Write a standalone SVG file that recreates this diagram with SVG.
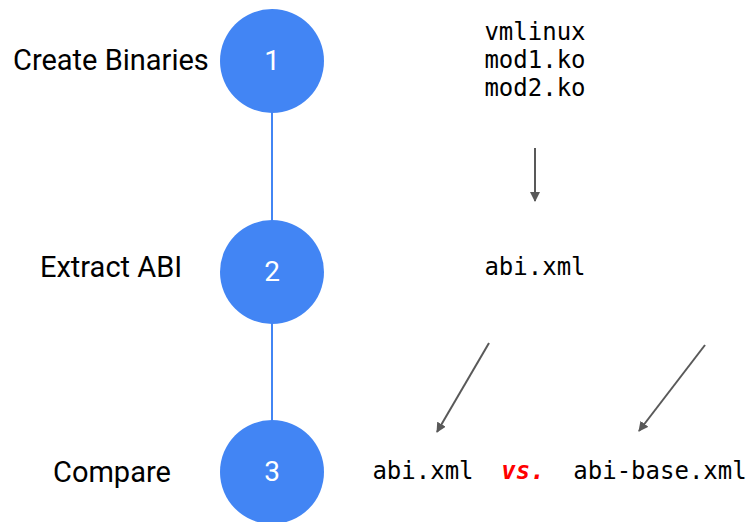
<svg xmlns="http://www.w3.org/2000/svg" width="748" height="522" viewBox="0 0 748 522">
<defs>
<style>
.lbl{font-family:Roboto,"Liberation Sans",sans-serif;font-size:29px;fill:#000}
.num{font-family:Roboto,"Liberation Sans",sans-serif;font-size:28px;fill:#fff;text-anchor:middle}
.mono{font-family:"DejaVu Sans Mono","Liberation Mono",monospace;font-size:24px;fill:#000}
.circ{fill:#4285f4}
.link{stroke:#4285f4;stroke-width:2;fill:none}
.arr{stroke:#595959;stroke-width:2;fill:none;marker-end:url(#ah)}
</style>
<marker id="ah" viewBox="0 0 10 10" refX="9" refY="5" markerWidth="5" markerHeight="5" orient="auto" markerUnits="strokeWidth">
<path d="M0,0 L10,5 L0,10 z" fill="#595959"/>
</marker>
</defs>
<rect width="748" height="522" fill="#fff"/>
<g id="connectors">
<line class="link" x1="272" y1="112" x2="272" y2="222"/>
<line class="link" x1="272" y1="322" x2="272" y2="422"/>
<line class="arr" x1="535" y1="148" x2="535" y2="201"/>
<line class="arr" x1="489" y1="343" x2="437" y2="432"/>
<line class="arr" x1="705" y1="345" x2="639" y2="431"/>
</g>
<g id="step1">
<circle class="circ" cx="272" cy="61" r="52"/>
<text class="num" x="272" y="70">1</text>
<text class="lbl" x="13" y="70">Create Binaries</text>
</g>
<g id="step2">
<circle class="circ" cx="272" cy="272" r="52"/>
<text class="num" x="272" y="281">2</text>
<text class="lbl" x="40" y="277">Extract ABI</text>
</g>
<g id="step3">
<circle class="circ" cx="272" cy="472" r="52"/>
<text class="num" x="272" y="481">3</text>
<text class="lbl" x="53" y="482">Compare</text>
</g>
<g id="binaries">
<text class="mono" x="535" y="40" text-anchor="middle">vmlinux</text>
<text class="mono" x="535" y="68" text-anchor="middle">mod1.ko</text>
<text class="mono" x="535" y="96" text-anchor="middle">mod2.ko</text>
</g>
<g id="abi">
<text class="mono" x="535" y="275" text-anchor="middle">abi.xml</text>
</g>
<g id="compare">
<text class="mono" x="423" y="479" text-anchor="middle">abi.xml</text>
<text x="523" y="479" text-anchor="middle" style="font-family:'DejaVu Sans Mono','Liberation Mono',monospace;font-size:24px;font-weight:bold;font-style:italic;fill:#ff0000">vs.</text>
<text class="mono" x="660" y="479" text-anchor="middle">abi-base.xml</text>
</g>
</svg>
